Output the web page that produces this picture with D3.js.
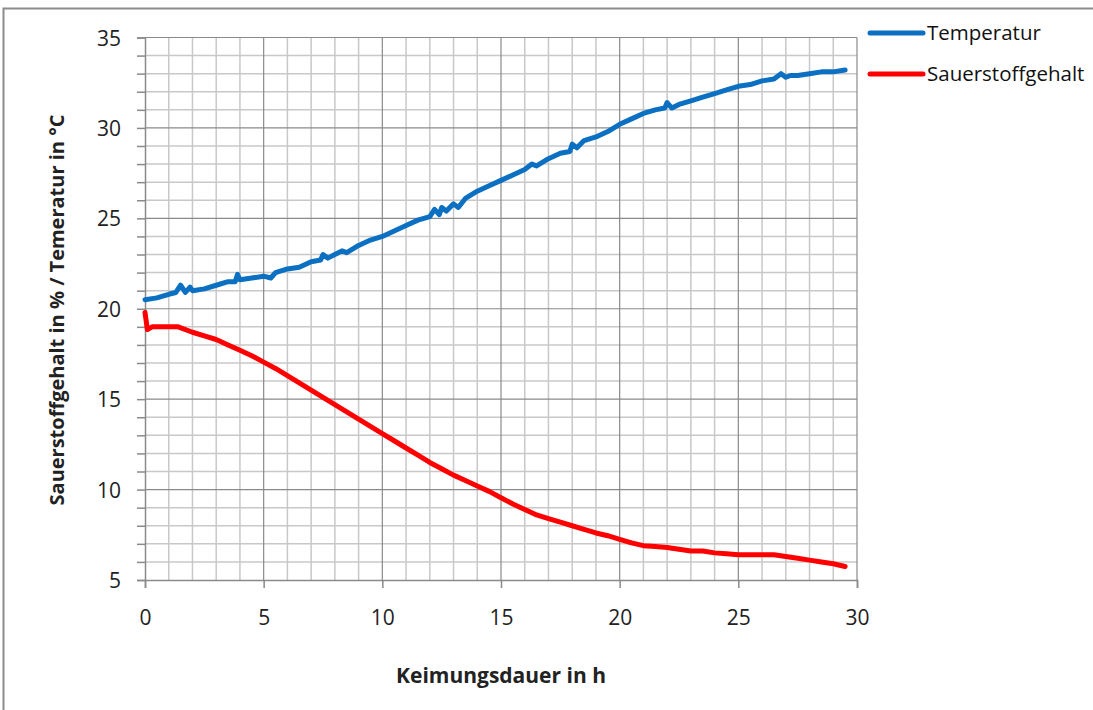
<!DOCTYPE html>
<html>
<head>
<meta charset="utf-8">
<script src="https://cdn.jsdelivr.net/npm/d3@7"></script>
<style>
  body { margin: 0; background: #fff; }
  svg { display: block; font-family: "Open Sans", "Liberation Sans", sans-serif; }
</style>
</head>
<body>
<svg id="chart" width="1093" height="710"></svg>
<script>
// values
var tempTime = [0, 0.5, 1, 1.3, 1.5, 1.7, 1.9, 2, 2.5, 3, 3.5, 3.8, 3.9, 4, 4.5, 5, 5.3, 5.5, 6, 6.5, 7, 7.4, 7.5, 7.7, 8, 8.3, 8.5, 9, 9.5, 10, 10.5, 11, 11.5, 12, 12.2, 12.4, 12.5, 12.7, 13, 13.2, 13.5, 14, 14.5, 15, 15.5, 16, 16.3, 16.5, 17, 17.5, 17.9, 18, 18.2, 18.5, 19, 19.5, 20, 20.5, 21, 21.5, 21.9, 22, 22.2, 22.5, 23, 23.5, 24, 24.5, 25, 25.5, 26, 26.5, 26.8, 27, 27.2, 27.5, 28, 28.5, 29, 29.5];
var tempValues = [20.5, 20.6, 20.8, 20.9, 21.3, 20.9, 21.2, 21.0, 21.1, 21.3, 21.5, 21.5, 21.9, 21.6, 21.7, 21.8, 21.7, 22.0, 22.2, 22.3, 22.6, 22.7, 23.0, 22.8, 23.0, 23.2, 23.1, 23.5, 23.8, 24.0, 24.3, 24.6, 24.9, 25.1, 25.5, 25.2, 25.6, 25.4, 25.8, 25.6, 26.1, 26.5, 26.8, 27.1, 27.4, 27.7, 28.0, 27.9, 28.3, 28.6, 28.7, 29.1, 28.9, 29.3, 29.5, 29.8, 30.2, 30.5, 30.8, 31.0, 31.1, 31.4, 31.1, 31.3, 31.5, 31.7, 31.9, 32.1, 32.3, 32.4, 32.6, 32.7, 33.0, 32.8, 32.9, 32.9, 33.0, 33.1, 33.1, 33.2];

var oxyTime = [0, 0.1, 0.3, 1, 1.4, 2, 2.5, 3, 3.5, 4, 4.5, 5, 5.5, 6, 6.5, 7, 7.5, 8, 8.5, 9, 9.5, 10, 10.5, 11, 11.5, 12, 12.5, 13, 13.5, 14, 14.5, 15, 15.5, 16, 16.5, 17, 17.5, 18, 18.5, 19, 19.5, 20, 20.5, 21, 21.5, 22, 22.5, 23, 23.5, 24, 24.5, 25, 25.5, 26, 26.5, 27, 27.5, 28, 28.5, 29, 29.5];
var oxyValues = [19.8, 18.85, 19.0, 19.0, 19.0, 18.7, 18.5, 18.3, 18.0, 17.7, 17.4, 17.05, 16.7, 16.3, 15.9, 15.5, 15.1, 14.7, 14.3, 13.9, 13.5, 13.1, 12.7, 12.3, 11.9, 11.5, 11.15, 10.8, 10.5, 10.2, 9.9, 9.55, 9.2, 8.9, 8.6, 8.4, 8.2, 8.0, 7.8, 7.6, 7.45, 7.25, 7.05, 6.9, 6.85, 6.8, 6.7, 6.6, 6.6, 6.5, 6.45, 6.4, 6.4, 6.4, 6.4, 6.3, 6.2, 6.1, 6.0, 5.9, 5.75];

var seriesNames = ["Temperatur", "Sauerstoffgehalt"];
var seriesColors = ["#0b6fc2", "#ff0000"];
var xTicks = [0, 5, 10, 15, 20, 25, 30];
var yTicks = [5, 10, 15, 20, 25, 30, 35];

var svg = d3.select("#chart");

// outer frame
svg.append("rect")
    .attr("x", 3.5).attr("y", 8.5)
    .attr("width", 1100).attr("height", 720)
    .attr("fill", "none")
    .attr("stroke", "#8c8c8c")
    .attr("stroke-width", 2);

var marginLeft = 145, marginRight = 857, marginTop = 37.5, marginBottom = 580;

var x = d3.scaleLinear().domain([0, 30]).range([marginLeft, marginRight]);
var y = d3.scaleLinear().domain([5, 35]).range([marginBottom, marginTop]);

var g = svg.append("g");

// minor grid
g.append("g")
    .selectAll("line")
    .data(d3.range(1, 30).filter(d => d % 5 !== 0))
    .enter()
    .append("line")
    .attr("x1", d => x(d)).attr("x2", d => x(d))
    .attr("y1", y(5)).attr("y2", y(35))
    .attr("stroke", "#c8c8c8").attr("stroke-width", 1.5);

g.append("g")
    .selectAll("line")
    .data(d3.range(6, 35).filter(d => d % 5 !== 0))
    .enter()
    .append("line")
    .attr("x1", x(0)).attr("x2", x(30))
    .attr("y1", d => y(d)).attr("y2", d => y(d))
    .attr("stroke", "#c8c8c8").attr("stroke-width", 1.5);

// major grid
g.append("g")
    .selectAll("line")
    .data(xTicks.slice(1))
    .enter()
    .append("line")
    .attr("x1", d => x(d)).attr("x2", d => x(d))
    .attr("y1", y(5)).attr("y2", y(35))
    .attr("stroke", "#8a8a8a").attr("stroke-width", 1.2);

g.append("g")
    .selectAll("line")
    .data(yTicks.slice(1))
    .enter()
    .append("line")
    .attr("x1", x(0)).attr("x2", x(30))
    .attr("y1", d => y(d)).attr("y2", d => y(d))
    .attr("stroke", "#8a8a8a").attr("stroke-width", 1.2);

// axes
var xAxis = d3.axisBottom(x).tickValues(xTicks).tickSize(8).tickPadding(22).tickFormat(d3.format("d"));
var yAxis = d3.axisLeft(y).tickValues(d3.range(5, 36)).tickSize(8).tickPadding(16)
    .tickFormat(d => d % 5 === 0 ? d : "");

var xa = g.append("g").attr("transform", "translate(0," + y(5) + ")").call(xAxis);
var ya = g.append("g").attr("transform", "translate(" + x(0) + ",0)").call(yAxis);

[xa, ya].forEach(function (a) {
    a.select(".domain").attr("stroke", "#8a8a8a").attr("stroke-width", 1.5);
    a.selectAll(".tick line").attr("stroke", "#8a8a8a").attr("stroke-width", 1.5);
    a.selectAll(".tick text")
        .attr("font-size", "21px")
        .attr("fill", "#222")
        .attr("font-family", "'Open Sans', sans-serif");
});
ya.selectAll(".tick text").attr("dy", "0.36em");
xa.selectAll(".tick text").attr("dy", "0.71em");

// lines
var line = d3.line()
    .x(d => x(d[0]))
    .y(d => y(d[1]));

var tempData = tempTime.map((t, i) => [t, tempValues[i]]);
var oxyData = oxyTime.map((t, i) => [t, oxyValues[i]]);

g.append("path")
    .datum(tempData)
    .attr("d", line)
    .attr("fill", "none")
    .attr("stroke", seriesColors[0])
    .attr("stroke-width", 5)
    .attr("stroke-linejoin", "round")
    .attr("stroke-linecap", "round");

g.append("path")
    .datum(oxyData)
    .attr("d", line)
    .attr("fill", "none")
    .attr("stroke", seriesColors[1])
    .attr("stroke-width", 5)
    .attr("stroke-linejoin", "round")
    .attr("stroke-linecap", "round");

// axis titles
svg.append("text")
    .attr("x", 501).attr("y", 683)
    .attr("text-anchor", "middle")
    .attr("font-size", "21px")
    .attr("font-weight", "bold")
    .attr("fill", "#222")
    .text("Keimungsdauer in h");

svg.append("text")
    .attr("transform", "translate(64,310) rotate(-90)")
    .attr("text-anchor", "middle")
    .attr("font-size", "20px")
    .attr("font-weight", "bold")
    .attr("fill", "#222")
    .text("Sauerstoffgehalt in % / Temeratur in °C");

// legend
var legend = svg.append("g")
    .selectAll("g")
    .data(seriesNames)
    .enter()
    .append("g")
    .attr("transform", (d, i) => "translate(870," + (33 + i * 41) + ")");

legend.append("line")
    .attr("x1", 0).attr("x2", 53)
    .attr("stroke", (d, i) => seriesColors[i])
    .attr("stroke-width", 5)
    .attr("stroke-linecap", "round");

legend.append("text")
    .attr("x", 57).attr("dy", "0.35em")
    .attr("font-size", "20.5px")
    .attr("fill", "#111")
    .text(d => d);
</script>
</body>
</html>
